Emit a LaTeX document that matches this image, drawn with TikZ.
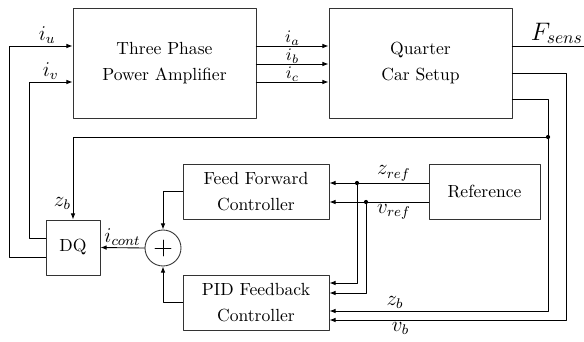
\documentclass[tikz,border=0pt]{standalone}
\usepackage{amsmath}
\usetikzlibrary{arrows.meta,calc}
\tikzset{
    every picture/.style={line cap=round,line join=round},
    block/.style={draw=black!80,line width=0.5pt,minimum width=3.66cm,
      minimum height=2.2cm,inner sep=2pt,align=center,font=\normalsize},
    ctrlblock/.style={block,minimum width=2.92cm,minimum height=1.1cm},
    refblock/.style={block,minimum width=2.22cm,minimum height=1.1cm},
    dqblock/.style={block,minimum width=1.08cm,minimum height=1.1cm},
    sumnode/.style={draw=black!80,circle,line width=0.5pt,minimum size=0.72cm,inner sep=0pt},
    sig/.style={-{Latex[length=3.5pt,width=2.6pt]},line width=0.5pt},
    siglabel/.style={font=\large,inner sep=1pt},
    phaselabel/.style={font=\normalsize,inner sep=0.3pt},
    junction/.style={circle,fill,inner sep=0pt,minimum size=2.4pt}
}
\begin{document}
\begin{tikzpicture}[x=0.02cm,y=-0.02cm]
  \useasboundingbox (0,0) rectangle (584,341);
  % blocks
  \node[block] (amp) at (164.5,63) {Three Phase\\[3pt]Power Amplifier};
  \node[block] (car) at (420.5,63) {Quarter\\[3pt]Car Setup};
  \node[ctrlblock] (ff) at (256,191.5) {Feed Forward\\[3pt]Controller};
  \node[ctrlblock] (pid) at (256,302.5) {PID Feedback\\[3pt]Controller};
  \node[refblock] (ref) at (484.5,191.5) {Reference};
  \node[dqblock] (dq) at (73,247.5) {DQ};
  \node[sumnode] (sum) at (163,248) {};
  \draw[line width=0.4pt] ($(sum.center)+(-8,0)$) -- ($(sum.center)+(8,0)$)
    ($(sum.center)+(0,-8)$) -- ($(sum.center)+(0,8)$);
  % corners and junctions
  \coordinate (cu) at (9,46);
  \coordinate (cv) at (29,82);
  \coordinate (fout) at (584,46);
  \coordinate (jb) at (548,137);
  \coordinate (jz) at (357,183);
  \coordinate (jv) at (366,202);
  % amplifier inputs from DQ
  \draw[sig] (dq.west|-0,257) -| (cu) -- node[siglabel,above,pos=0.6]{$i_u$} (amp.west|-cu);
  \draw[sig] (dq.west|-0,238) -| (cv) -- node[siglabel,above]{$i_v$} (amp.west|-cv);
  % phase currents
  \draw[sig] (amp.east|-0,46) -- node[phaselabel,above]{$i_a$} (car.west|-0,46);
  \draw[sig] (amp.east|-0,64) -- node[phaselabel,above]{$i_b$} (car.west|-0,64);
  \draw[sig] (amp.east|-0,82) -- node[phaselabel,above]{$i_c$} (car.west|-0,82);
  % car outputs
  \draw[line width=0.5pt] (car.east|-fout) -- node[siglabel,above,pos=0.62,font=\Large]{$F_{sens}$} (fout);
  \draw[sig] (car.east|-0,73) -| (566,320) -- node[siglabel,below,pos=0.7]{$v_b$} (pid.east|-0,320);
  \draw[sig] (car.east|-0,99) -| (548,311) -- node[siglabel,above,pos=0.7]{$z_b$} (pid.east|-0,311);
  \draw[sig] (jb) -| node[siglabel,left,pos=0.9]{$z_b$} (dq.north);
  \node[junction] at (jb) {};
  % reference signals
  \draw[sig] (ref.west|-jz) -- node[siglabel,above,pos=0.35]{$z_{ref}$} (ff.east|-jz);
  \draw[sig] (ref.west|-jv) -- node[siglabel,below,pos=0.35]{$v_{ref}$} (ff.east|-jv);
  \draw[sig] (jz) |- (pid.east|-0,283);
  \draw[sig] (jv) |- (pid.east|-0,293);
  \node[junction] at (jz) {};
  \node[junction] at (jv) {};
  % controller sum
  \draw[sig] (ff.west) -| (sum.north);
  \draw[sig] (pid.west) -| (sum.south);
  \draw[sig] (sum.west) -- node[siglabel,above]{$i_{cont}$} (dq.east);
\end{tikzpicture}
\end{document}
